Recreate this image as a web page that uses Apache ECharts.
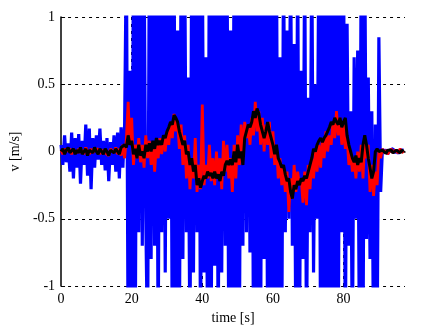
<!DOCTYPE html>
<html>
<head>
<meta charset="utf-8">
<script src="https://cdn.jsdelivr.net/npm/echarts@6/dist/echarts.min.js"></script>
<style>
html, body { margin: 0; padding: 0; background: #fff; }
#chart { width: 426px; height: 333px; }
</style>
</head>
<body>
<div id="chart"></div>
<script>
// samples every 0.5 s, t = 0 .. 97
const dt = 0.5
// raw velocity (blue), clipped by the axis at +-1
const rawV = [
    0.05, -0.1, 0.12, -0.08, 0.06, -0.15, 0.14, -0.2, 0.1, -0.12,
    0.13, -0.24, 0.08, -0.1, 0.2, -0.18, 0.17, -0.28, 0.1, -0.12,
    0.12, -0.06, 0.17, -0.1, 0.08, -0.14, 0.1, -0.22, 0.07, -0.1,
    0.12, -0.15, 0.14, -0.2, 0.18, -0.12, 0.2, 1.5, -1.5, 0.6,
    -1.5, 1.5, -1.5, 1.5, -0.6, 1.5, -0.7, 1.5, -0.5, -1.5,
    1.5, -0.8, 1.5, -0.7, 1.5, -1.5, 1.5, -0.6, 1.5, -0.9,
    1.5, -0.5, 1.5, -1.5, 1.5, -1.5, 0.9, -1.5, 1.5, -0.8,
    1.5, -0.6, 0.55, -1.5, 1.5, -0.9, 1.5, -0.6, 1.5, -1.5,
    1.5, -0.9, 0.7, -1.5, 1.5, -1.5, 1.5, -0.85, 1.5, -1.5,
    1.5, -0.9, 1.5, -0.7, 1.5, -1.5, 0.9, -1.5, 1.5, -1.5,
    1.5, -1.5, 1.5, -0.7, 1.5, -0.6, 1.5, -0.75, 1.5, -1.5,
    1.5, -1.5, 1.5, -1.5, 1.5, -0.8, 1.5, -1.5, 1.5, -1.5,
    1.5, -1.5, 1.5, -1.5, 0.7, -1.5, 1.5, -0.6, 0.9, -0.5,
    1.5, -0.7, 0.8, -1.5, 1.5, -1.5, 0.6, -0.8, 1.5, -1.5,
    0.4, -0.6, 1.5, -0.9, 0.5, -0.5, 1.5, -1.5, 1.5, -1.5,
    1.5, -1.5, 1.5, -1.5, 1.5, -1.5, 1.5, -1.5, 1.5, -0.6,
    1.5, -1.5, 0.95, -0.7, 0.3, -1.5, 0.7, -0.5, 0.75, -1.5,
    1.5, -1.5, 1.5, -0.65, 0.55, -0.8, 0.3, -1.5, 0.2, -1.5,
    0.85, -0.3, 0.02, -0.01, 0.015, -0.02, 0.01, 0.0, 0.02, -0.01,
    0.01, -0.015, 0.01, 0.0, 0.01
]
// filtered velocity (red)
const filtV = [
    0.01, -0.02, 0.02, 0.0, -0.01, 0.02, -0.02, 0.01, 0.0, -0.01,
    0.02, -0.01, 0.01, -0.02, 0.03, 0.0, -0.02, 0.02, -0.01, 0.01,
    0.0, 0.02, -0.02, 0.01, 0.02, -0.01, 0.0, -0.03, 0.02, 0.01,
    -0.01, 0.03, -0.02, 0.02, -0.03, 0.05, -0.05, 0.1, 0.37, 0.05,
    0.25, -0.1, 0.05, -0.05, 0.1, -0.08, 0.05, -0.12, 0.12, -0.05,
    0.08, -0.1, 0.05, -0.15, 0.06, -0.05, 0.1, -0.02, 0.12, 0.0,
    0.15, 0.05, 0.22, 0.1, 0.28, 0.15, 0.22, 0.02, 0.2, -0.1,
    0.12, -0.2, 0.05, -0.28, -0.05, -0.2, 0.1, -0.3, -0.1, -0.28,
    0.35, -0.25, -0.1, -0.2, 0.05, -0.22, -0.05, -0.25, 0.0, -0.2,
    -0.05, -0.28, 0.08, -0.15, 0.05, -0.2, -0.05, -0.3, 0.05, -0.2,
    0.12, -0.1, 0.2, 0.0, 0.22, 0.1, 0.2, 0.05, 0.25, 0.12,
    0.37, 0.15, 0.3, 0.05, 0.25, 0.0, 0.2, 0.05, 0.22, -0.05,
    0.15, -0.1, 0.05, -0.2, -0.05, -0.25, -0.12, -0.3, -0.15, -0.45,
    -0.2, -0.35, -0.1, -0.3, -0.15, -0.25, -0.2, -0.38, -0.15, -0.4,
    -0.1, -0.28, -0.05, -0.2, 0.0, -0.15, 0.05, -0.12, 0.1, -0.05,
    0.15, 0.0, 0.12, 0.05, 0.22, 0.1, 0.3, 0.12, 0.25, 0.05,
    0.2, 0.02, 0.1, -0.1, 0.0, -0.15, -0.05, -0.2, 0.0, -0.15,
    0.05, -0.2, 0.08, -0.05, 0.05, -0.3, -0.1, -0.33, -0.15, -0.25,
    0.0, -0.05, 0.02, -0.01, 0.01, -0.02, 0.0, 0.02, -0.01, 0.01,
    0.0, -0.01, 0.02, 0.0, -0.01
]
// smoothed velocity (black)
const smoothV = [
    0.0, 0.02, -0.02, 0.01, 0.03, -0.01, 0.0, 0.02, -0.02, 0.01,
    -0.01, 0.03, -0.02, 0.0, 0.02, -0.03, 0.01, 0.02, -0.01, 0.03,
    0.0, -0.02, 0.02, 0.01, -0.02, 0.02, 0.0, -0.03, 0.01, 0.02,
    -0.01, 0.02, 0.0, -0.02, 0.03, 0.02, 0.05, 0.03, 0.12, 0.05,
    0.08, -0.02, 0.02, -0.05, 0.05, -0.03, 0.0, -0.05, 0.05, 0.0,
    0.06, 0.0, 0.08, 0.02, 0.1, 0.05, 0.08, 0.05, 0.12, 0.1,
    0.15, 0.18, 0.22, 0.2, 0.27, 0.25, 0.22, 0.15, 0.15, 0.05,
    0.08, -0.02, 0.0, -0.1, -0.05, -0.15, -0.1, -0.25, -0.2, -0.27,
    -0.22, -0.18, -0.2, -0.15, -0.18, -0.16, -0.2, -0.15, -0.2, -0.17,
    -0.22, -0.15, -0.18, -0.1, -0.07, -0.1, -0.06, -0.1, 0.0, -0.08,
    0.05, -0.05, 0.0, -0.1, 0.1, 0.15, 0.2, 0.18, 0.22, 0.3,
    0.25, 0.32, 0.28, 0.2, 0.15, 0.1, 0.15, 0.22, 0.15, 0.1,
    0.05, -0.02, 0.05, -0.05, -0.08, -0.12, -0.1, -0.17, -0.22, -0.2,
    -0.3, -0.35, -0.25, -0.28, -0.22, -0.25, -0.2, -0.22, -0.18, -0.2,
    -0.15, -0.1, -0.05, 0.02, 0.0, 0.05, 0.08, 0.1, 0.07, 0.1,
    0.12, 0.15, 0.18, 0.22, 0.2, 0.25, 0.22, 0.2, 0.25, 0.18,
    0.22, 0.25, 0.12, 0.05, 0.0, -0.05, -0.08, -0.03, -0.1, -0.05,
    -0.08, 0.05, 0.12, 0.05, -0.05, -0.12, -0.2, -0.15, 0.0, 0.02,
    0.0, -0.01, 0.01, 0.0, -0.015, 0.01, 0.0, 0.01, -0.01, 0.0,
    0.01, 0.0, -0.01, 0.01, 0.0
]
// vertical grid lines (time ticks)
const timeGrid = [20, 40, 60, 80]

const toPairs = arr => arr.map((v, i) => [i * dt, v])
const font = 'Liberation Serif'
const dashed = { color: '#000', type: [3, 4], width: 1 }

const myChart = echarts.init(document.getElementById('chart'))
const option = {
    animation: false,
    backgroundColor: '#fff',
    grid: {
        left: 57,
        right: 21,
        top: 17,
        bottom: 47
    },
    xAxis: {
        type: 'value',
        min: 0,
        max: 97.4,
        interval: 20,
        name: 'time [s]',
        nameLocation: 'middle',
        nameGap: 19,
        nameTextStyle: { color: '#000', fontFamily: font, fontSize: 14 },
        axisLine: { lineStyle: { color: '#000', width: 1.5 } },
        axisTick: { inside: true, length: 4, lineStyle: { color: '#000' } },
        axisLabel: { color: '#000', fontFamily: font, fontSize: 14, margin: 6, showMaxLabel: false },
        splitLine: { show: false }
    },
    yAxis: {
        type: 'value',
        min: -1,
        max: 1,
        interval: 0.5,
        name: 'v [m/s]',
        nameLocation: 'middle',
        nameGap: 31,
        nameTextStyle: { color: '#000', fontFamily: font, fontSize: 14 },
        axisLine: { lineStyle: { color: '#000', width: 1.5 } },
        axisTick: { inside: true, length: 4, lineStyle: { color: '#000' } },
        axisLabel: { color: '#000', fontFamily: font, fontSize: 14, margin: 6 },
        splitLine: { show: true, lineStyle: dashed }
    },
    series: [
        {
            name: 'grid',
            type: 'line',
            data: [],
            silent: true,
            z: 1,
            markLine: {
                silent: true,
                z: 1,
                symbol: 'none',
                label: { show: false },
                lineStyle: dashed,
                data: timeGrid.map(x => ({ xAxis: x }))
            }
        },
        {
            name: 'raw',
            type: 'line',
            data: toPairs(rawV),
            showSymbol: false,
            clip: true,
            lineStyle: { color: '#0000ff', width: 3.2 },
            z: 2
        },
        {
            name: 'filtered',
            type: 'line',
            data: toPairs(filtV),
            showSymbol: false,
            clip: true,
            lineStyle: { color: '#ff0000', width: 2.8 },
            z: 3
        },
        {
            name: 'smoothed',
            type: 'line',
            data: toPairs(smoothV),
            showSymbol: false,
            clip: true,
            lineStyle: { color: '#000000', width: 3 },
            z: 4
        }
    ]
}
myChart.setOption(option)
</script>
</body>
</html>
